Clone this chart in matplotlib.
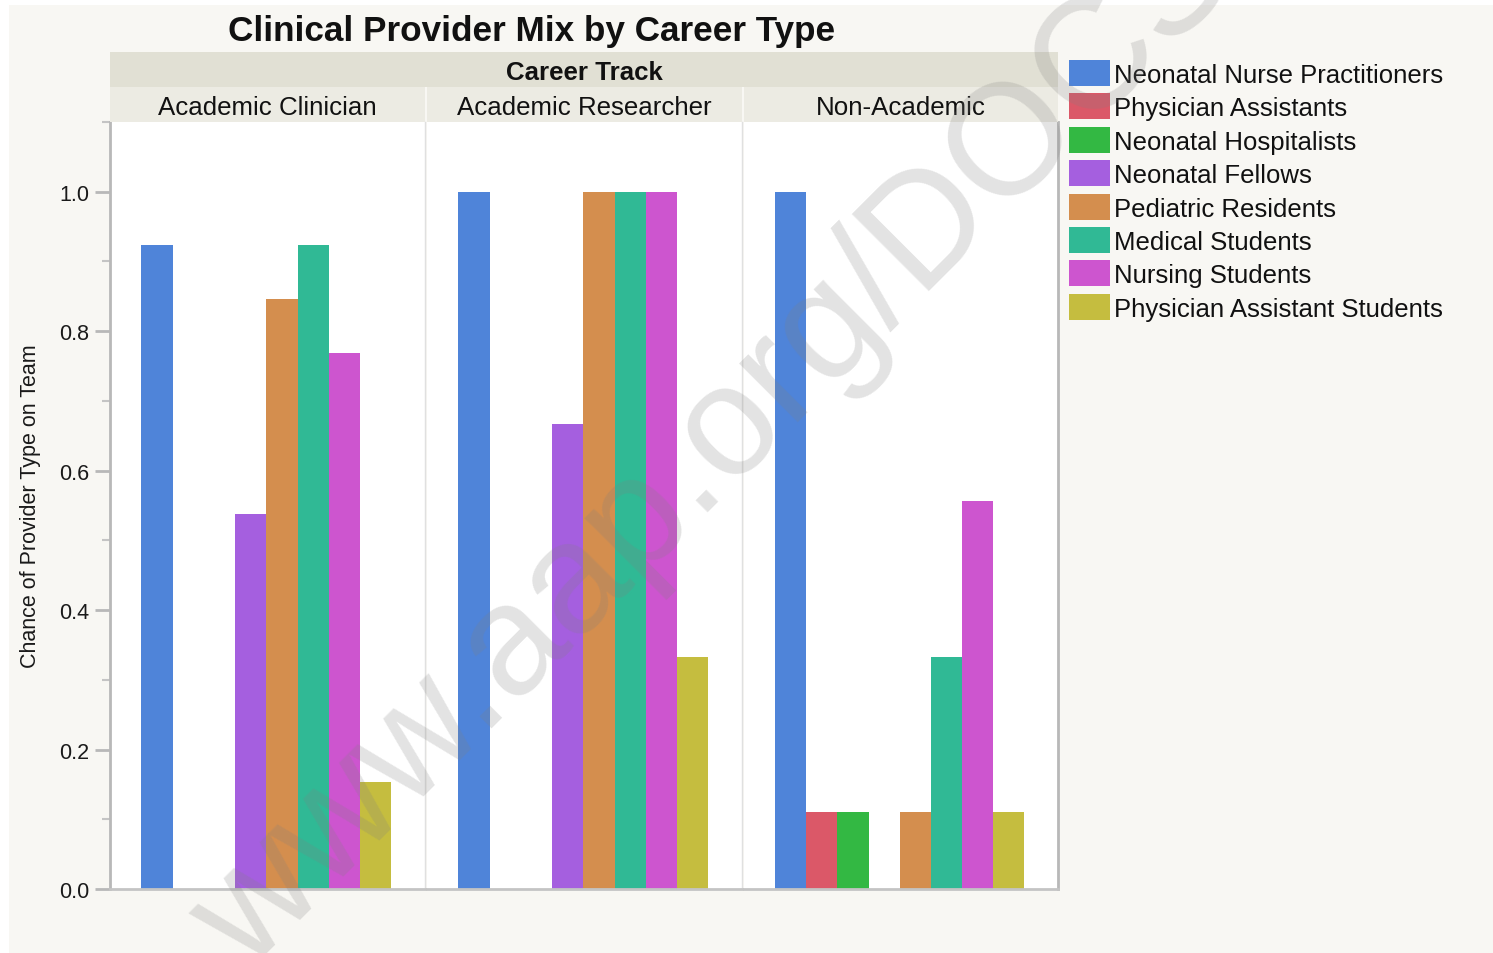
import matplotlib.pyplot as plt
from matplotlib.patches import Rectangle
from matplotlib.ticker import MultipleLocator

plt.rcParams['font.family'] = ['Liberation Sans', 'DejaVu Sans']

# ==== DATA ====
tracks = ['Academic Clinician', 'Academic Researcher', 'Non-Academic']
providers = ['Neonatal Nurse Practitioners', 'Physician Assistants', 'Neonatal Hospitalists',
             'Neonatal Fellows', 'Pediatric Residents', 'Medical Students',
             'Nursing Students', 'Physician Assistant Students']
colors = ['#4f84d9', '#db5868', '#33b843', '#a55fdf', '#d48e4e', '#30b995', '#cd55cf', '#c5bd3f']

clinician = [0.923, 0.0, 0.0, 0.538, 0.846, 0.923, 0.769, 0.154]
researcher = [1.0, 0.0, 0.0, 0.667, 1.0, 1.0, 1.0, 0.333]
non_academic = [1.0, 0.111, 0.111, 0.0, 0.111, 0.333, 0.556, 0.111]
valores = [clinician, researcher, non_academic]

# ==== FIGURA ====
W, H = 1493, 954
fig = plt.figure(figsize=(W / 100, H / 100), dpi=100)
fig.patch.set_facecolor('white')
fig.add_artist(Rectangle((9 / W, 0), 1 - 9 / W, 1 - 6 / H, transform=fig.transFigure,
                         facecolor='#f8f7f3', edgecolor='none', zorder=-10))

def px(x0, y_top, w, h):
    return [x0 / W, 1 - (y_top + h) / H, w / W, h / H]

painel_x = [110, 427, 744]
painel_w = [315, 315, 314]
topo, base = 123, 890

for k in range(3):
    ax = fig.add_axes(px(painel_x[k], topo, painel_w[k], base - topo))
    ax.set_facecolor('white')
    ax.bar(range(len(providers)), valores[k], width=1.0, color=colors, linewidth=0)
    ax.set_xlim(-1.5, 8.58)
    ax.set_ylim(0, 1.1)
    ax.set_xticks([])
    ax.spines['top'].set_visible(False)
    ax.spines['bottom'].set_color('#c4c4c4')
    ax.spines['bottom'].set_linewidth(2)
    if k == 2:
        ax.spines['right'].set_color('#b8b8b8')
        ax.spines['right'].set_linewidth(2)
    else:
        ax.spines['right'].set_color('#e0e0e0')
        ax.spines['right'].set_linewidth(1)
    if k == 0:
        ax.spines['left'].set_color('#b8b8b8')
        ax.spines['left'].set_linewidth(2)
        ax.yaxis.set_major_locator(MultipleLocator(0.2))
        ax.yaxis.set_minor_locator(MultipleLocator(0.1))
        ax.yaxis.set_major_formatter(plt.FormatStrFormatter('%.1f'))
        ax.tick_params(axis='y', which='major', length=11, width=2, color='#b8b8b8',
                       labelsize=15.5, labelcolor='#1a1a1a', pad=4)
        ax.tick_params(axis='y', which='minor', length=6, width=1.5, color='#c4c4c4')
        ax.set_ylabel('Chance of Provider Type on Team', fontsize=15.5, color='#1a1a1a', labelpad=13)
    else:
        ax.spines['left'].set_visible(False)
        ax.set_yticks([])

    # faixa com o nome do grupo
    sx = fig.add_axes(px(painel_x[k], 88, painel_w[k], 35))
    sx.set_facecolor('#ecebe3')
    sx.set_xticks([])
    sx.set_yticks([])
    for s in sx.spines.values():
        s.set_visible(False)
    sx.text(0.5, 0.42, tracks[k], ha='center', va='center', fontsize=18.6, color='#111111',
            transform=sx.transAxes)

# faixa de cima
tx = fig.add_axes(px(110, 53, 948, 35))
tx.set_facecolor('#e1e0d4')
tx.set_xticks([])
tx.set_yticks([])
for s in tx.spines.values():
    s.set_visible(False)
tx.text(0.5, 0.42, 'Career Track', ha='center', va='center', fontsize=18.6,
        fontweight='bold', color='#111111', transform=tx.transAxes)

fig.text(532 / W, 1 - 32 / H, 'Clinical Provider Mix by Career Type', ha='center', va='center',
         fontsize=25.3, fontweight='bold', color='#111111')

# legenda
for i in range(len(providers)):
    yc = 74 + i * 33.4
    fig.add_artist(Rectangle((1069 / W, 1 - (yc + 13) / H), 41 / W, 26 / H,
                             transform=fig.transFigure, facecolor=colors[i], edgecolor='none'))
    fig.text(1114 / W, 1 - (yc + 2) / H, providers[i], ha='left', va='center',
             fontsize=18.5, color='#111111')

# marca d'agua
fig.text(248 / W, 1 - 973 / H, 'www.aap.org/DOCS', rotation=45, rotation_mode='anchor',
         ha='left', va='baseline', fontsize=113, color='#808080', alpha=0.22, zorder=100)

fig.savefig('out.png', dpi=100)
